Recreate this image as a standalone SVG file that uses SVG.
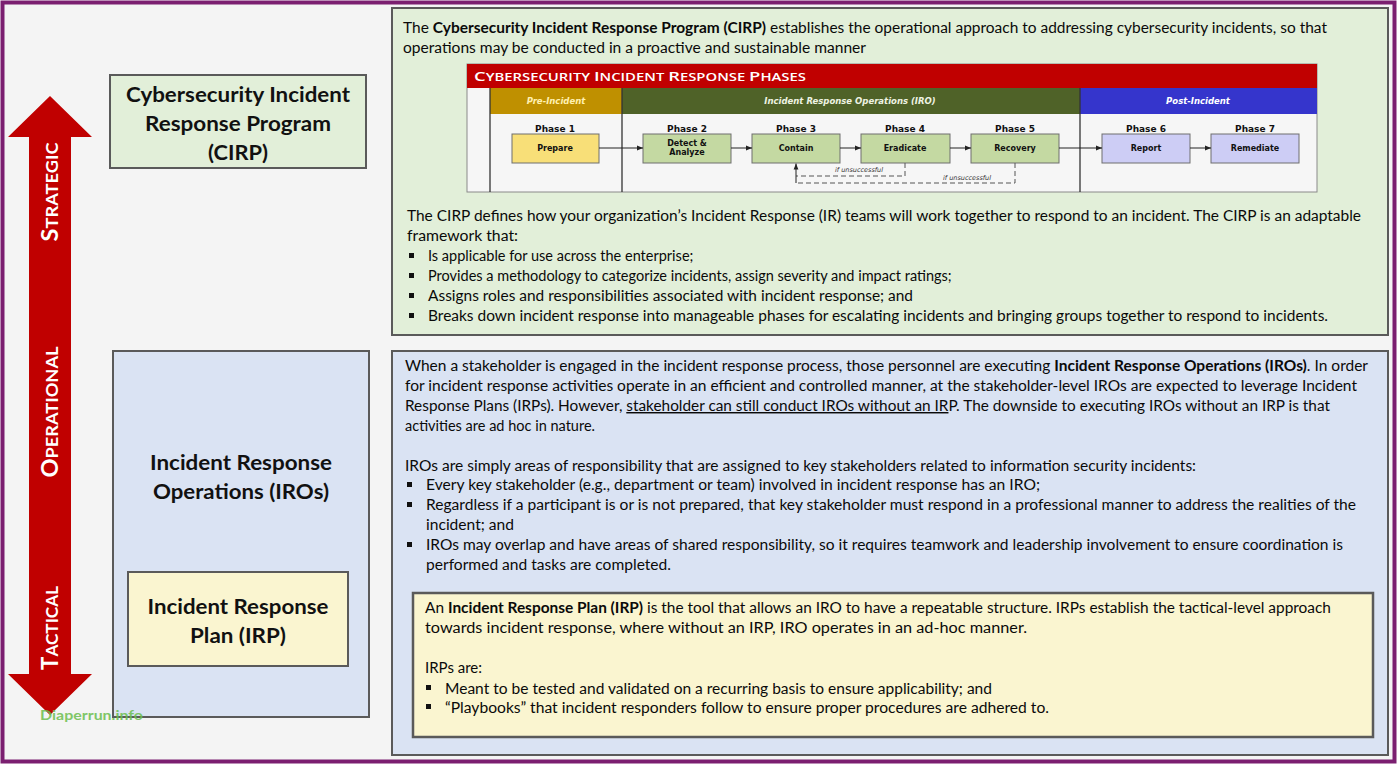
<svg xmlns="http://www.w3.org/2000/svg" width="1397" height="765" viewBox="0 0 1397 765">
<style>
.txt{font-family:Lato,"Open Sans","Liberation Sans",sans-serif;font-size:14.5px;fill:#0a0a0a}
.b{font-weight:700}
.hd{font-family:Lato,"Open Sans","Liberation Sans",sans-serif;font-size:20px;font-weight:700;fill:#111;text-anchor:middle}
.lvl{font-family:Lato,"Open Sans","Liberation Sans",sans-serif;font-weight:700;fill:#fff;text-anchor:middle;font-size:17px}
.big{font-size:22px}
.gbox{fill:#e2efd9;stroke:#5a5a5a;stroke-width:2}
.bbox{fill:#dae3f3;stroke:#5a5a5a;stroke-width:2}
.ybox{fill:#faf5d0;stroke:#5a5a5a;stroke-width:2.5}
.bul{fill:#111}
.ch{font-family:"DejaVu Sans",Verdana,sans-serif;font-weight:700;fill:#111;text-anchor:middle}
.ph{font-size:9px}
.pb{font-size:8px}
.hdr{font-family:"DejaVu Sans",Verdana,sans-serif;font-weight:700;font-style:italic;font-size:8.5px;text-anchor:middle}
.p1{fill:#f8df78;stroke:#6e6e6e;stroke-width:1}
.pg{fill:#c4d9a2;stroke:#6e6e6e;stroke-width:1}
.pv{fill:#cdcdf5;stroke:#6e6e6e;stroke-width:1}
.flow{stroke:#222;stroke-width:1;fill:none}
.dash{stroke:#555;stroke-width:1;fill:none;stroke-dasharray:5 3}
.unsucc{font-family:"DejaVu Sans",Verdana,sans-serif;font-style:italic;font-size:6.5px;fill:#333}
</style>
<defs>
<marker id="ah" viewBox="0 0 10 10" refX="10" refY="5" markerWidth="6" markerHeight="6" orient="auto" markerUnits="userSpaceOnUse">
<path d="M0,1 L10,5 L0,9 z" fill="#222"/>
</marker>
</defs>

<rect x="0" y="0" width="1397" height="765" fill="#ffffff"/>
<rect x="2.5" y="2.5" width="1392" height="759" fill="#f4f4f4" stroke="#7b1f70" stroke-width="4"/>

<g id="level-arrow">
<path d="M50,96 L92,137 L71,137 L71,674 L92,674 L50,715 L8,674 L29,674 L29,137 L8,137 Z" fill="#c00000"/>
<text class="lvl" transform="translate(58,192) rotate(-90)" textLength="99" lengthAdjust="spacingAndGlyphs"><tspan class="big">S</tspan>TRATEGIC</text>
<text class="lvl" transform="translate(58,412) rotate(-90)" textLength="131" lengthAdjust="spacingAndGlyphs"><tspan class="big">O</tspan>PERATIONAL</text>
<text class="lvl" transform="translate(58,628) rotate(-90)" textLength="84" lengthAdjust="spacingAndGlyphs"><tspan class="big">T</tspan>ACTICAL</text>
</g>

<g id="cirp-label">
<rect class="gbox" x="110" y="75" width="256" height="93"/>
<text class="hd" x="238" y="102" textLength="224" lengthAdjust="spacingAndGlyphs">Cybersecurity Incident</text>
<text class="hd" x="238" y="131" textLength="186" lengthAdjust="spacingAndGlyphs">Response Program</text>
<text class="hd" x="238" y="160" textLength="60" lengthAdjust="spacingAndGlyphs">(CIRP)</text>
</g>

<g id="iro-label">
<rect class="bbox" x="113" y="351" width="256" height="366"/>
<text class="hd" x="241" y="470" textLength="182" lengthAdjust="spacingAndGlyphs">Incident Response</text>
<text class="hd" x="241" y="499" textLength="176" lengthAdjust="spacingAndGlyphs">Operations (IROs)</text>
</g>

<g id="irp-label">
<rect class="ybox" x="128" y="572" width="220" height="94" style="stroke-width:2"/>
<text class="hd" x="238" y="614" textLength="181" lengthAdjust="spacingAndGlyphs">Incident Response</text>
<text class="hd" x="238" y="643" textLength="96" lengthAdjust="spacingAndGlyphs">Plan (IRP)</text>
</g>

<g id="cirp-description">
<rect class="gbox" x="392" y="8" width="996" height="327"/>
<text class="txt" x="403" y="33" textLength="924" lengthAdjust="spacingAndGlyphs">The <tspan class="b">Cybersecurity Incident Response Program (CIRP)</tspan> establishes the operational approach to addressing cybersecurity incidents, so that</text>
<text class="txt" x="403" y="53" textLength="463" lengthAdjust="spacingAndGlyphs">operations may be conducted in a proactive and sustainable manner</text>

<g id="phases-chart">
<rect x="467" y="64" width="850" height="128" fill="#f6f6f6" stroke="#8a8a8a" stroke-width="1"/>
<rect x="467" y="64" width="850" height="24" fill="#c00000"/>
<text x="474" y="81" textLength="332" lengthAdjust="spacingAndGlyphs" style="font-family:'Open Sans','DejaVu Sans',sans-serif;font-weight:600;fill:#fff;font-size:10.5px"><tspan style="font-size:13px">C</tspan>YBERSECURITY <tspan style="font-size:13px">I</tspan>NCIDENT <tspan style="font-size:13px">R</tspan>ESPONSE <tspan style="font-size:13px">P</tspan>HASES</text>
<rect x="490" y="88" width="132" height="26" fill="#bf9000"/>
<rect x="622" y="88" width="458" height="26" fill="#4f6228"/>
<rect x="1080" y="88" width="237" height="26" fill="#3535cc"/>
<text class="hdr" x="556" y="104" fill="#fff0b0">Pre-Incident</text>
<text class="hdr" x="850" y="104" fill="#eef3e2">Incident Response Operations (IRO)</text>
<text class="hdr" x="1198" y="104" fill="#ffffff">Post-Incident</text>
<line x1="490" y1="88" x2="490" y2="192" stroke="#333" stroke-width="1.3"/>
<line x1="622" y1="88" x2="622" y2="192" stroke="#333" stroke-width="1.3"/>
<line x1="1080" y1="88" x2="1080" y2="192" stroke="#333" stroke-width="1.3"/>

<g id="phase1">
<text class="ch ph" x="555" y="132">Phase 1</text>
<rect class="p1" x="512" y="134" width="87" height="29"/>
<text class="ch pb" x="555" y="151">Prepare</text>
</g>
<g id="phase2">
<text class="ch ph" x="687" y="132">Phase 2</text>
<rect class="pg" x="643" y="134" width="88" height="29"/>
<text class="ch pb" x="687" y="146">Detect &amp;</text>
<text class="ch pb" x="687" y="155">Analyze</text>
</g>
<g id="phase3">
<text class="ch ph" x="796" y="132">Phase 3</text>
<rect class="pg" x="752" y="134" width="88" height="29"/>
<text class="ch pb" x="796" y="151">Contain</text>
</g>
<g id="phase4">
<text class="ch ph" x="905" y="132">Phase 4</text>
<rect class="pg" x="861" y="134" width="89" height="29"/>
<text class="ch pb" x="905" y="151">Eradicate</text>
</g>
<g id="phase5">
<text class="ch ph" x="1015" y="132">Phase 5</text>
<rect class="pg" x="971" y="134" width="88" height="29"/>
<text class="ch pb" x="1015" y="151">Recovery</text>
</g>
<g id="phase6">
<text class="ch ph" x="1146" y="132">Phase 6</text>
<rect class="pv" x="1102" y="134" width="88" height="29"/>
<text class="ch pb" x="1146" y="151">Report</text>
</g>
<g id="phase7">
<text class="ch ph" x="1255" y="132">Phase 7</text>
<rect class="pv" x="1211" y="134" width="88" height="29"/>
<text class="ch pb" x="1255" y="151">Remediate</text>
</g>

<g id="phase-connectors">
<line class="flow" x1="599" y1="148" x2="643" y2="148" marker-end="url(#ah)"/>
<line class="flow" x1="731" y1="148" x2="752" y2="148" marker-end="url(#ah)"/>
<line class="flow" x1="840" y1="148" x2="861" y2="148" marker-end="url(#ah)"/>
<line class="flow" x1="950" y1="148" x2="971" y2="148" marker-end="url(#ah)"/>
<line class="flow" x1="1059" y1="148" x2="1102" y2="148" marker-end="url(#ah)"/>
<line class="flow" x1="1190" y1="148" x2="1211" y2="148" marker-end="url(#ah)"/>
<path class="dash" d="M905,163 V176 H796"/>
<path class="dash" d="M1015,163 V183 H796"/>
<line class="flow" x1="796" y1="183" x2="796" y2="163.5" marker-end="url(#ah)"/>
<text class="unsucc" x="835" y="172">if unsuccessful</text>
<text class="unsucc" x="943" y="180">if unsuccessful</text>
</g>
</g>

<text class="txt" x="407" y="221" textLength="954" lengthAdjust="spacingAndGlyphs">The CIRP defines how your organization’s Incident Response (IR) teams will work together to respond to an incident. The CIRP is an adaptable</text>
<text class="txt" x="407" y="241" textLength="111" lengthAdjust="spacingAndGlyphs">framework that:</text>
<rect class="bul" x="409" y="253" width="5" height="5"/>
<text class="txt" x="428" y="261">Is applicable for use across the enterprise;</text>
<rect class="bul" x="409" y="273" width="5" height="5"/>
<text class="txt" x="428" y="281">Provides a methodology to categorize incidents, assign severity and impact ratings;</text>
<rect class="bul" x="409" y="293" width="5" height="5"/>
<text class="txt" x="428" y="301" textLength="485" lengthAdjust="spacingAndGlyphs">Assigns roles and responsibilities associated with incident response; and</text>
<rect class="bul" x="409" y="313" width="5" height="5"/>
<text class="txt" x="428" y="321" textLength="900" lengthAdjust="spacingAndGlyphs">Breaks down incident response into manageable phases for escalating incidents and bringing groups together to respond to incidents.</text>
</g>

<g id="iro-description">
<rect class="bbox" x="392" y="351" width="996" height="404"/>
<text class="txt" x="405" y="371" textLength="963" lengthAdjust="spacingAndGlyphs">When a stakeholder is engaged in the incident response process, those personnel are executing <tspan class="b">Incident Response Operations (IROs)</tspan>. In order</text>
<text class="txt" x="405" y="391" textLength="952" lengthAdjust="spacingAndGlyphs">for incident response activities operate in an efficient and controlled manner, at the stakeholder-level IROs are expected to leverage Incident</text>
<text class="txt" x="405" y="411" textLength="925" lengthAdjust="spacingAndGlyphs">Response Plans (IRPs). However, <tspan text-decoration="underline">stakeholder can still conduct IROs without an IR</tspan>P. The downside to executing IROs without an IRP is that</text>
<text class="txt" x="405" y="431">activities are ad hoc in nature.</text>
<text class="txt" x="405" y="471" textLength="791" lengthAdjust="spacingAndGlyphs">IROs are simply areas of responsibility that are assigned to key stakeholders related to information security incidents:</text>
<rect class="bul" x="407" y="482" width="5" height="5"/>
<text class="txt" x="426" y="490" textLength="614" lengthAdjust="spacingAndGlyphs">Every key stakeholder (e.g., department or team) involved in incident response has an IRO;</text>
<rect class="bul" x="407" y="502" width="5" height="5"/>
<text class="txt" x="426" y="510" textLength="930" lengthAdjust="spacingAndGlyphs">Regardless if a participant is or is not prepared, that key stakeholder must respond in a professional manner to address the realities of the</text>
<text class="txt" x="426" y="530" textLength="88" lengthAdjust="spacingAndGlyphs">incident; and</text>
<rect class="bul" x="407" y="542" width="5" height="5"/>
<text class="txt" x="426" y="550" textLength="917" lengthAdjust="spacingAndGlyphs">IROs may overlap and have areas of shared responsibility, so it requires teamwork and leadership involvement to ensure coordination is</text>
<text class="txt" x="426" y="570" textLength="245" lengthAdjust="spacingAndGlyphs">performed and tasks are completed.</text>

<g id="irp-description">
<rect class="ybox" x="413" y="593" width="960" height="144"/>
<text class="txt" x="425" y="613" textLength="906" lengthAdjust="spacingAndGlyphs">An <tspan class="b">Incident Response Plan (IRP)</tspan> is the tool that allows an IRO to have a repeatable structure. IRPs establish the tactical-level approach</text>
<text class="txt" x="425" y="633" textLength="602" lengthAdjust="spacingAndGlyphs">towards incident response, where without an IRP, IRO operates in an ad-hoc manner.</text>
<text class="txt" x="425" y="673" textLength="57" lengthAdjust="spacingAndGlyphs">IRPs are:</text>
<rect class="bul" x="426" y="685" width="5" height="5"/>
<text class="txt" x="445" y="694" textLength="547" lengthAdjust="spacingAndGlyphs">Meant to be tested and validated on a recurring basis to ensure applicability; and</text>
<rect class="bul" x="426" y="704" width="5" height="5"/>
<text class="txt" x="445" y="713" textLength="604" lengthAdjust="spacingAndGlyphs">“Playbooks” that incident responders follow to ensure proper procedures are adhered to.</text>
</g>
</g>

<text x="40" y="720" textLength="103" lengthAdjust="spacingAndGlyphs" style="font-family:Lato,'Liberation Sans',sans-serif;font-size:14px;font-weight:700;fill:#6cbf4f;opacity:0.85">Diaperrun.info</text>
</svg>
